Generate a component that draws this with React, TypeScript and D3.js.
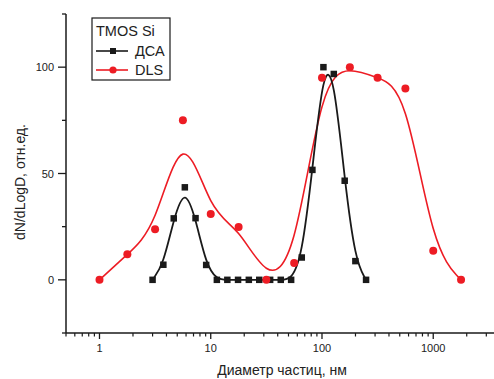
import React from "react";
import * as d3 from "d3";

const W = 494;
const H = 379;

// ДСА (black squares)
const dcaX = [3.0, 3.75, 4.65, 5.85, 7.3, 9.1, 11.35, 14.1, 17.6, 22, 27.3, 34.2, 42.6, 52.8, 65.8, 82, 103, 127.7, 160, 199.6, 249];
const dcaY = [0, 7.1, 28.9, 43.5, 29, 7, 0, 0, 0, 0, 0, 0, 0, 0, 10.5, 51.7, 100, 96.8, 46.6, 8.8, 0];

// DLS (red circles)
const dlsX = [1, 1.78, 3.16, 5.62, 10, 17.8, 31.6, 56.2, 100, 178, 316, 562, 1000, 1778];
const dlsY = [0, 12, 23.8, 75, 30.9, 24.9, 0, 7.9, 95, 100, 95, 90, 13.7, 0];

const xMajor = [1, 10, 100, 1000];
const yMajor = [0, 50, 100];
const yMinor = [-25, 25, 75, 125];

const RED = "#ed1c24";
const BLACK = "#1a1a1a";
const FONT = "'Liberation Sans', Arial, Helvetica, sans-serif";

export default function App() {
  const x = d3.scaleLog().domain([0.5, 3517]).range([66, 494]);
  const y = d3.scaleLinear().domain([-25, 125]).range([333, 14]);

  const xMinor: number[] = [];
  [0.1, 1, 10, 100, 1000].forEach((dec) => {
    for (let k = 1; k <= 9; k++) {
      const v = dec * k;
      if (k === 1 && dec >= 1) continue;
      if (v >= 0.5 && v <= 3517) xMinor.push(v);
    }
  });

  const dca = dcaX.map((v, i) => [v, dcaY[i]] as [number, number]);
  const dls = dlsX.map((v, i) => [v, dlsY[i]] as [number, number]);

  const line = d3
    .line<[number, number]>()
    .x((d) => x(d[0]))
    .y((d) => y(d[1]))
    .curve(d3.curveBasis);

  const sq = 6.5;

  return (
    <svg
      width={W}
      height={H}
      style={{ position: "absolute", left: 0, top: 0, background: "#fff" }}
      fontFamily={FONT}
    >
      <rect x={0} y={0} width={W} height={H} fill="#fff" />
      {/* axes */}
      <line x1={66} x2={66} y1={y(125)} y2={y(-25)} stroke={BLACK} strokeWidth={1.5} />
      <line x1={66} x2={W} y1={333} y2={333} stroke={BLACK} strokeWidth={1.5} />
      {yMajor.map((v) => (
        <g key={"ym" + v}>
          <line x1={58} x2={66} y1={y(v)} y2={y(v)} stroke={BLACK} strokeWidth={1.3} />
          <text x={54} y={y(v) + 4} fontSize={11} textAnchor="end" fill="#222">
            {v}
          </text>
        </g>
      ))}
      {yMinor.map((v) => (
        <line key={"yn" + v} x1={62} x2={66} y1={y(v)} y2={y(v)} stroke={BLACK} strokeWidth={1.3} />
      ))}
      {xMajor.map((v) => (
        <g key={"xm" + v}>
          <line x1={x(v)} x2={x(v)} y1={333} y2={339} stroke={BLACK} strokeWidth={1.3} />
          <text x={x(v)} y={352} fontSize={11} textAnchor="middle" fill="#222">
            {v}
          </text>
        </g>
      ))}
      {xMinor.map((v) => (
        <line key={"xn" + v} x1={x(v)} x2={x(v)} y1={333} y2={336.5} stroke={BLACK} strokeWidth={1.2} />
      ))}
      {/* axis titles */}
      <text
        transform={`translate(25,${182}) rotate(-90)`}
        fontSize={14}
        textAnchor="middle"
        fill="#222"
      >
        dN/dLogD, отн.ед.
      </text>
      <text x={282} y={375} fontSize={14} textAnchor="middle" fill="#222">
        Диаметр частиц, нм
      </text>

      {/* curves */}
      <path d={line(dls) || ""} fill="none" stroke={RED} strokeWidth={1.6} />
      <path d={line(dca) || ""} fill="none" stroke={BLACK} strokeWidth={1.8} />

      {/* markers */}
      {dca.map((d, i) => (
        <rect
          key={"s" + i}
          x={x(d[0]) - sq / 2}
          y={y(d[1]) - sq / 2}
          width={sq}
          height={sq}
          fill={BLACK}
        />
      ))}
      {dls.map((d, i) => (
        <circle key={"c" + i} cx={x(d[0])} cy={y(d[1])} r={4} fill={RED} />
      ))}

      {/* legend */}
      <rect x={92} y={18} width={78} height={62} fill="#fff" stroke={BLACK} strokeWidth={1.2} />
      <text x={96} y={36} fontSize={14.5} fill="#222">
        TMOS Si
      </text>
      <line x1={96} x2={128} y1={51} y2={51} stroke={BLACK} strokeWidth={1.6} />
      <rect x={113 - 3} y={51 - 3} width={6} height={6} fill={BLACK} />
      <text x={135} y={56} fontSize={14.5} fill="#222">
        ДСА
      </text>
      <line x1={96} x2={128} y1={70} y2={70} stroke={RED} strokeWidth={1.6} />
      <circle cx={113} cy={70} r={3.6} fill={RED} />
      <text x={135} y={75} fontSize={14.5} fill="#222">
        DLS
      </text>
    </svg>
  );
}
